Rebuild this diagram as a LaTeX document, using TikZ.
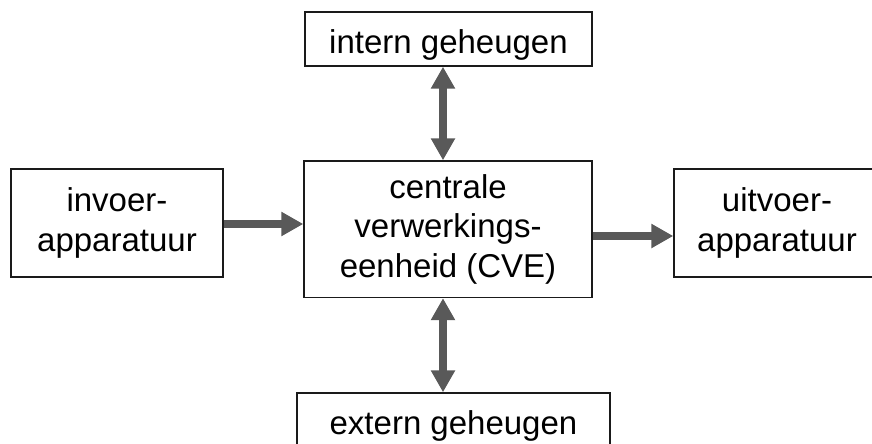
\documentclass[tikz,border=0pt]{standalone}
\usepackage{fontspec}
\setmainfont{Liberation Sans}
\usetikzlibrary{arrows.meta}
\definecolor{arrowgray}{HTML}{595959}
\definecolor{boxline}{HTML}{1A1A1A}
\tikzset{
  box/.style={draw=boxline, line width=1.4pt, fill=white, inner sep=0pt, align=center,
    font=\fontsize{33}{39.5}\selectfont},
  single/.style={text height=35pt, text depth=7pt},
  flow/.style={draw=arrowgray, line width=8pt,
    -{Triangle[width=23pt,length=22pt,fill=arrowgray]}},
  dflow/.style={draw=arrowgray, line width=8pt,
    {Triangle[width=23pt,length=22pt,fill=arrowgray]}-{Triangle[width=23pt,length=22pt,fill=arrowgray]}},
}
\begin{document}
\begin{tikzpicture}[x=1pt,y=1pt]
\useasboundingbox (0,0) rectangle (872,-444);
\node[box, single, minimum width=287pt, minimum height=54pt] (intern) at (448.5,-39) {intern geheugen};
\node[box, minimum width=288pt, minimum height=136.5pt] (cve) at (448,-229.25) {centrale\\verwerkings-\\eenheid (CVE)};
\node[box, minimum width=212pt, minimum height=108pt] (invoer) at (117,-223) {invoer-\\apparatuur};
\node[box, minimum width=206pt, minimum height=108pt] (uitvoer) at (777,-223) {uitvoer-\\apparatuur};
\node[box, single, minimum width=313pt, minimum height=55pt] (extern) at (453.5,-420.5) {extern geheugen};
\draw[flow] ([yshift=-1pt]invoer.east) -- ([yshift=5.25pt]cve.west);
\draw[flow] ([yshift=-6.75pt]cve.east) -- ([yshift=-13pt]uitvoer.west);
\draw[dflow] ([xshift=-5.5pt]intern.south) -- ([xshift=-5pt]cve.north);
\draw[dflow] ([xshift=-5pt]cve.south) -- ([xshift=-10.5pt]extern.north);
\end{tikzpicture}
\end{document}
